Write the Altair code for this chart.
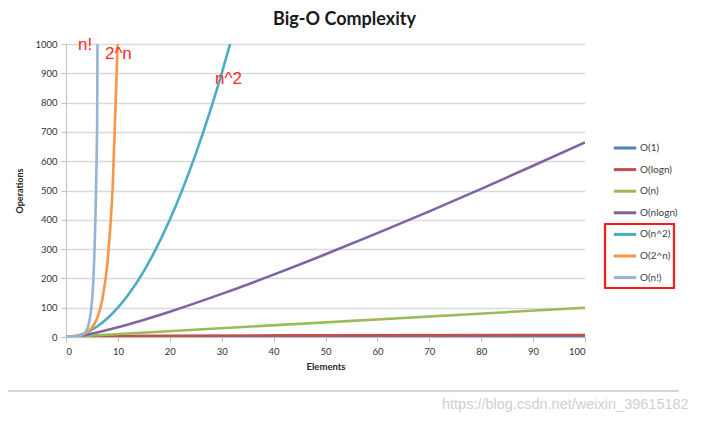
import altair as alt
import pandas as pd

# ---- data ----
series_names = ["O(1)", "O(logn)", "O(n)", "O(nlogn)", "O(n^2)", "O(2^n)", "O(n!)"]
series_colors = ["#4F81BD", "#C0504D", "#9BBB59", "#8064A2", "#4BACC6", "#F79646", "#95B3D7"]

o1_x = [0, 100]
o1_y = [1, 1]
logn_x = [1, 2, 5, 10, 20, 50, 100]
logn_y = [0, 1, 2.32, 3.32, 4.32, 5.64, 6.64]
n_x = [0, 100]
n_y = [0, 100]
nlogn_x = [0, 1, 2, 3, 4, 5, 10, 20, 30, 40, 50, 60, 70, 80, 90, 100]
nlogn_y = [0, 0, 2, 4.75, 8, 11.6, 33.2, 86.4, 147.2, 212.9, 282.2, 354.4, 428.9, 505.6, 584.3, 664.4]
sq_x = [0, 2, 4, 6, 8, 10, 12, 15, 20, 25, 30, 32]
sq_y = [0, 4, 16, 36, 64, 100, 144, 225, 400, 625, 900, 1024]
exp_x = [0, 1, 2, 3, 4, 5, 6, 7, 8, 9, 10]
exp_y = [1, 2, 4, 8, 16, 32, 64, 128, 256, 512, 1024]
fact_x = [0, 1, 2, 3, 4, 5, 6, 7]
fact_y = [1, 1, 2, 6, 24, 120, 720, 5040]

ann_text = ["n!", "2^n", "n^2"]
ann_x = [2.3, 7.5, 28.7]
ann_y = [979, 949, 863]

x_ticks = [0, 10, 20, 30, 40, 50, 60, 70, 80, 90, 100]
y_ticks = [0, 100, 200, 300, 400, 500, 600, 700, 800, 900, 1000]

watermark = "https://blog.csdn.net/weixin_39615182"

rows = []
for name, xs, ys in zip(
    series_names,
    [o1_x, logn_x, n_x, nlogn_x, sq_x, exp_x, fact_x],
    [o1_y, logn_y, n_y, nlogn_y, sq_y, exp_y, fact_y],
):
    for i, (xv, yv) in enumerate(zip(xs, ys)):
        rows.append({"series": name, "x": xv, "y": yv, "order": i})
df = pd.DataFrame(rows)
ann_df = pd.DataFrame({"text": ann_text, "x": ann_x, "y": ann_y})

W, H = 519, 293
xscale = alt.Scale(domain=[0, 100], nice=False)
yscale = alt.Scale(domain=[0, 1000], nice=False)

x_axis = alt.Axis(title="Elements", values=x_ticks, format="d", labelOverlap=False,
                  grid=False, domainColor="#bfbfbf",
                  tickColor="#bfbfbf", tickSize=5, labelFontSize=9.5, labelColor="#333333",
                  labelFont="Lato", labelPadding=4, titleFont="Lato", titleFontSize=9.5,
                  titleFontWeight="bold", titleColor="#262626", titlePadding=6)
y_axis = alt.Axis(title="Operations", values=y_ticks, format="d", labelOverlap=False,
                  gridColor="#d9d9d9", gridWidth=1.3,
                  domainColor="#bfbfbf", tickColor="#bfbfbf", tickSize=5,
                  labelFontSize=9.5, labelColor="#333333", labelFont="Lato", labelPadding=4,
                  titleFont="Lato", titleFontSize=9, titleFontWeight="bold",
                  titleColor="#262626", titlePadding=10)

lines = alt.Chart(df).mark_line(strokeWidth=2.6, interpolate="monotone", clip=True).encode(
    x=alt.X("x:Q", scale=xscale, axis=x_axis),
    y=alt.Y("y:Q", scale=yscale, axis=y_axis),
    color=alt.Color("series:N", scale=alt.Scale(domain=series_names, range=series_colors),
                    legend=alt.Legend(title=None, orient="none", legendX=546, legendY=91,
                                      symbolType="stroke", symbolSize=500, symbolStrokeWidth=3,
                                      labelFont="Lato", labelFontSize=10, labelColor="#404040",
                                      labelOffset=2, rowPadding=2.6)),
    detail="series:N",
    order="order:Q",
)

ann = alt.Chart(ann_df).mark_text(align="left", baseline="alphabetic", font="Liberation Sans",
                                  fontSize=17, color="#ff2a2a").encode(
    x=alt.X("x:Q", scale=xscale, axis=x_axis), y=alt.Y("y:Q", scale=yscale, axis=y_axis),
    text="text:N")

one = pd.DataFrame({"k": [0]})
box = alt.Chart(one).mark_rect(fillOpacity=0, stroke="#ff1a1a", strokeWidth=2.2).encode(
    x=alt.value(539), x2=alt.value(608), y=alt.value(180), y2=alt.value(244))
rule = alt.Chart(one).mark_rule(color="#c8c8c8", strokeWidth=1.5).encode(
    x=alt.value(-64), x2=alt.value(613), y=alt.value(347))
wm = alt.Chart(pd.DataFrame({"t": [watermark]})).mark_text(
    align="left", baseline="middle", font="Liberation Sans", fontSize=14.5, color="#d0d0d0").encode(
    x=alt.value(376), y=alt.value(361), text="t:N")

chart = alt.layer(lines, ann, box, rule, wm).properties(
    width=W, height=H,
    title=alt.TitleParams("Big-O Complexity", font="Lato", fontSize=18, fontWeight="bold",
                          color="#1a1a1a", anchor="middle", dx=19, offset=7),
    autosize=alt.AutoSizeParams(type="none"),
    padding={"left": 58, "top": 36, "right": 129, "bottom": 75},
).configure_view(stroke=None)

chart.save("out.html", embed_options={"renderer": "svg", "actions": False})
